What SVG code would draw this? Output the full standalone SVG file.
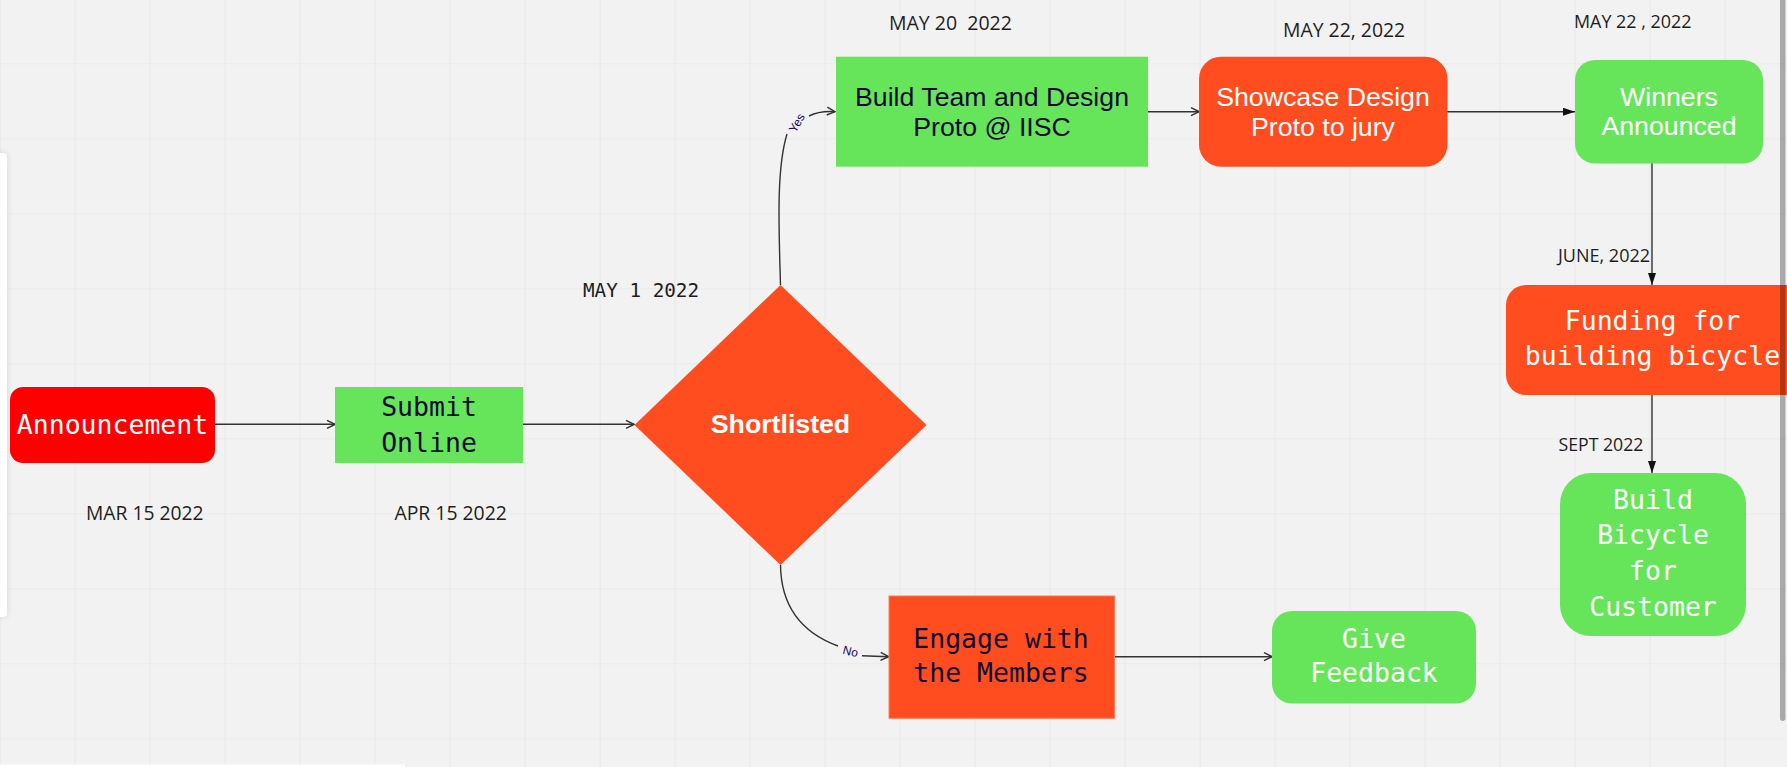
<svg xmlns="http://www.w3.org/2000/svg" width="1787" height="767" viewBox="0 0 1787 767">
<style>
.mono{font-family:"DejaVu Sans Mono","Liberation Mono",monospace;font-size:26.5px;text-anchor:middle}
.sans{font-family:"Liberation Sans",Arial,sans-serif;font-size:26.7px;text-anchor:middle}
.date{font-family:"Open Sans","Noto Sans",sans-serif;fill:#1e1e1e}
.dark{fill:#100a33}
.white{fill:#ffffff}
.green{fill:#66e55a}
.orange{fill:#ff4d1f}
.conn{fill:none;stroke:#333333;stroke-width:1.4}
.lbl{font-family:"Liberation Sans",Arial,sans-serif;font-size:12px;fill:#1a0a5e;text-anchor:middle}
</style>
<defs>
<pattern id="grid" patternUnits="userSpaceOnUse" x="74.6" y="63.3" width="75" height="75">
<path d="M0,0 H75 M0,0 V75" fill="none" stroke="#e3e3e3" stroke-width="1.2"/>
</pattern>
<marker id="open" viewBox="0 0 10 10" refX="9" refY="5" markerWidth="10" markerHeight="10" markerUnits="userSpaceOnUse" orient="auto">
<path d="M1,1 L9,5 L1,9" fill="none" stroke="#333333" stroke-width="1.5"/>
</marker>
<marker id="solid" viewBox="0 0 12 8" refX="12" refY="4" markerWidth="12" markerHeight="8" markerUnits="userSpaceOnUse" orient="auto">
<path d="M0,0 L12,4 L0,8 z" fill="#111111"/>
</marker>
<filter id="sh" x="-50%" y="-10%" width="300%" height="120%">
<feDropShadow dx="0" dy="0" stdDeviation="3" flood-color="#000" flood-opacity="0.12"/>
</filter>
</defs>
<rect width="1787" height="767" fill="#f2f2f2"/>
<rect width="1787" height="767" fill="url(#grid)"/>
<path d="M-10,153 H3 a4,4 0 0 1 4,4 V613 a4,4 0 0 1 -4,4 H-10 z" fill="#ffffff" filter="url(#sh)"/>
<rect x="0" y="764.5" width="405" height="3" fill="#ffffff"/>

<g id="connectors">
<path class="conn" d="M215,424.3 H335" marker-end="url(#open)"/>
<path class="conn" d="M523,424.3 H634" marker-end="url(#open)"/>
<path class="conn" d="M780.5,285 C779,230 776,170 787,134"/>
<path class="conn" d="M809,116 Q820,110.5 835,111.7" marker-end="url(#open)"/>
<text class="lbl" transform="translate(797,123) rotate(-60)" dy="4">Yes</text>
<path class="conn" d="M780.5,565 C781,605 800,632 838,646"/>
<path class="conn" d="M862,655.8 L888.6,656.7" marker-end="url(#open)"/>
<text class="lbl" transform="translate(850.5,651.5) rotate(15)" dy="4">No</text>
<path class="conn" d="M1148,111.7 H1199" marker-end="url(#open)"/>
<path class="conn" d="M1447,111.7 H1575" marker-end="url(#solid)"/>
<path class="conn" d="M1652,163 V285" marker-end="url(#solid)"/>
<path class="conn" d="M1652,395 V473" marker-end="url(#solid)"/>
<path class="conn" d="M1114,656.7 H1272" stroke-width="1.8" marker-end="url(#open)"/>
</g>

<g id="announcement">
<rect x="10" y="387" width="205" height="76" rx="13" fill="#ff0000"/>
<text class="mono white" x="112.5" y="433.5">Announcement</text>
</g>
<g id="submit-online">
<rect class="green" x="335" y="387" width="188" height="76"/>
<text class="mono dark" x="429" y="416">Submit</text>
<text class="mono dark" x="429" y="451.7">Online</text>
</g>
<g id="shortlisted">
<path class="orange" d="M780.5,285 L926.5,425 L780.5,565 L634.5,425 z"/>
<text class="sans white" x="780.5" y="433.3" font-weight="bold">Shortlisted</text>
</g>
<g id="build-team">
<rect class="green" x="836" y="56.7" width="312" height="110"/>
<text class="sans dark" x="992" y="106">Build Team and Design</text>
<text class="sans dark" x="992" y="135.5">Proto @ IISC</text>
</g>
<g id="showcase">
<rect class="orange" x="1199" y="56.7" width="248.5" height="110" rx="22"/>
<text class="sans white" x="1323" y="106">Showcase Design</text>
<text class="sans white" x="1323" y="135.5">Proto to jury</text>
</g>
<g id="winners">
<rect class="green" x="1575" y="60" width="188" height="103.5" rx="20"/>
<text class="sans white" x="1669" y="105.5">Winners</text>
<text class="sans white" x="1669" y="135">Announced</text>
</g>
<g id="funding">
<rect class="orange" x="1506" y="285" width="300" height="110" rx="20"/>
<text class="mono white" x="1652.5" y="330">Funding for</text>
<text class="mono white" x="1652.5" y="365">building bicycle</text>
</g>
<g id="build-bicycle">
<rect class="green" x="1560" y="473" width="186" height="163" rx="31"/>
<text class="mono white" x="1653" y="509.3">Build</text>
<text class="mono white" x="1653" y="544.3">Bicycle</text>
<text class="mono white" x="1653" y="579.5">for</text>
<text class="mono white" x="1653" y="615.5">Customer</text>
</g>
<g id="engage">
<rect class="orange" x="889" y="596" width="225.5" height="122.3" stroke="#ff7a55" stroke-width="1"/>
<text class="mono dark" x="1001" y="647.7">Engage with</text>
<text class="mono dark" x="1001" y="681.7">the Members</text>
</g>
<g id="give-feedback">
<rect class="green" x="1272" y="611" width="204" height="92.5" rx="20"/>
<text class="mono white" x="1374" y="647.7">Give</text>
<text class="mono white" x="1374" y="681.7">Feedback</text>
</g>

<g id="dates">
<text class="date" x="889" y="30" font-size="19.5" xml:space="preserve">MAY 20  2022</text>
<text class="date" x="1283" y="36.5" font-size="19.4">MAY 22, 2022</text>
<text class="date" x="1574" y="27.5" font-size="17.9" xml:space="preserve">MAY 22 , 2022</text>
<text class="date" x="1558" y="261.5" font-size="18">JUNE, 2022</text>
<text class="date" x="1558.5" y="451" font-size="17.7">SEPT 2022</text>
<text class="date" x="86" y="520" font-size="19.3">MAR 15 2022</text>
<text class="date" x="394.4" y="520" font-size="19.4">APR 15 2022</text>
<text x="583" y="296.5" font-family="DejaVu Sans Mono,Liberation Mono,monospace" font-size="19.3" fill="#1e1e1e">MAY 1 2022</text>
</g>
<rect x="1780" y="-5" width="5.5" height="726" rx="2.75" fill="#000000" fill-opacity="0.3"/>
</svg>
